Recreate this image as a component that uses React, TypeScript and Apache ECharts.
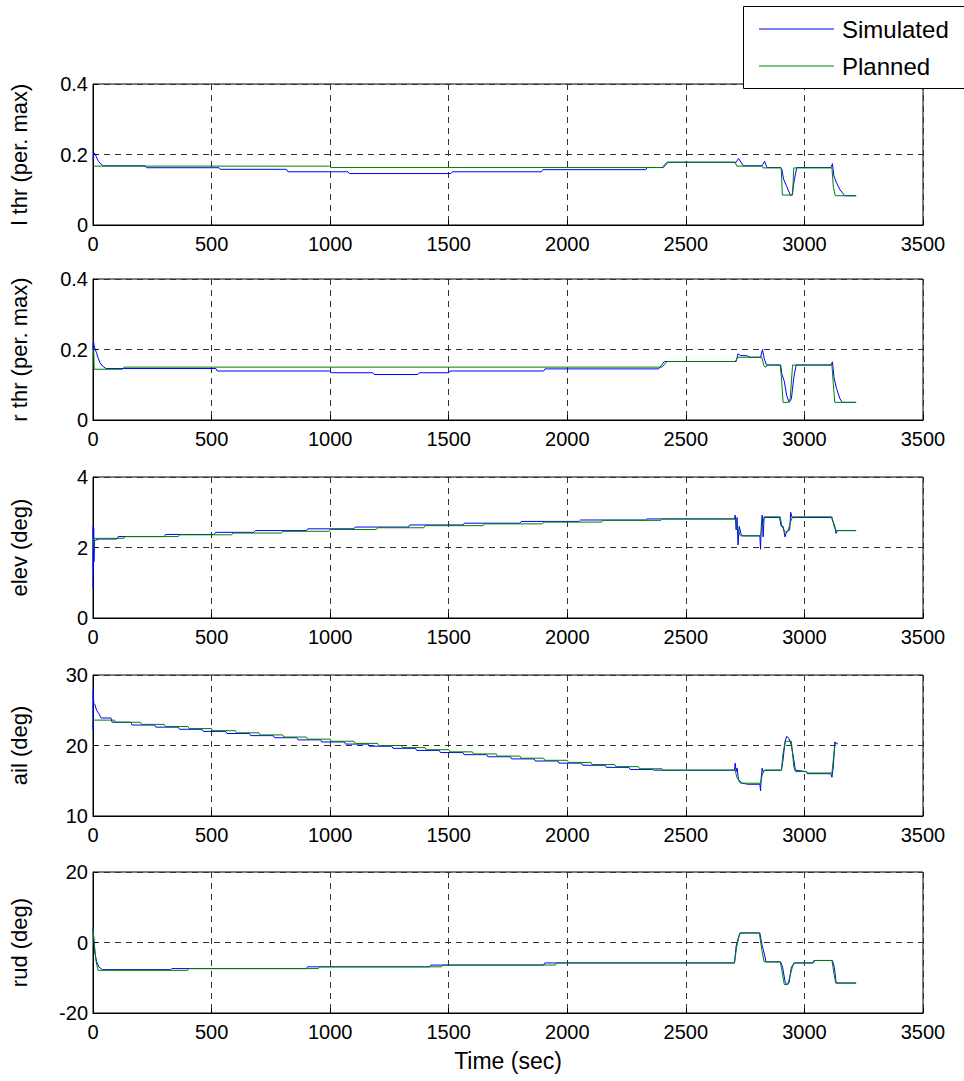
import React, { useEffect, useRef } from "react";
import * as echarts from "echarts";

const xTicks = [0, 500, 1000, 1500, 2000, 2500, 3000, 3500];
const yNames = ["l thr (per. max)", "r thr (per. max)", "elev (deg)", "ail (deg)", "rud (deg)"];
const yMins = [0, 0, 0, 10, -20];
const yMaxs = [0.4, 0.4, 4, 30, 20];
const yIntervals = [0.2, 0.2, 2, 10, 20];
const legendNames = ["Simulated", "Planned"];

const lthrSim = [[0,0.185],[4,0.205],[10,0.2],[16,0.19],[24,0.18],[34,0.172],[45,0.168],[220,0.168],[226,0.1625],[531,0.1625],[537,0.158],[816,0.158],[822,0.151],[1075,0.151],[1081,0.146],[1509,0.146],[1515,0.151],[1891,0.151],[1897,0.157],[2331,0.157],[2337,0.163],[2405,0.163],[2425,0.178],[2712,0.178],[2722,0.189],[2742,0.168],[2822,0.168],[2832,0.181],[2842,0.163],[2900,0.163],[2905,0.158],[2912,0.13],[2925,0.11],[2940,0.085],[2948,0.085],[2958,0.13],[2968,0.163],[3112,0.163],[3118,0.174],[3124,0.14],[3135,0.12],[3150,0.1],[3170,0.083],[3218,0.083]];
const lthrPlan = [[0,0.167],[997,0.167],[1003,0.163],[2400,0.163],[2420,0.178],[2708,0.178],[2715,0.167],[2820,0.167],[2825,0.162],[2902,0.162],[2907,0.085],[2950,0.085],[2955,0.162],[3116,0.162],[3122,0.107],[3130,0.083],[3218,0.083]];

const rthrSim = [[0,0.2],[2,0.223],[5,0.21],[10,0.2],[16,0.188],[22,0.175],[30,0.162],[40,0.153],[55,0.146],[518,0.146],[524,0.139],[1000,0.139],[1006,0.134],[1180,0.134],[1186,0.129],[1370,0.129],[1376,0.134],[1500,0.134],[1506,0.139],[1900,0.139],[1906,0.145],[2385,0.145],[2410,0.166],[2712,0.166],[2720,0.188],[2730,0.183],[2760,0.182],[2770,0.178],[2815,0.178],[2823,0.2],[2830,0.175],[2840,0.156],[2900,0.156],[2905,0.13],[2915,0.11],[2925,0.07],[2935,0.05],[2945,0.06],[2955,0.12],[2965,0.156],[3112,0.156],[3118,0.165],[3125,0.12],[3135,0.09],[3150,0.06],[3160,0.05],[3218,0.05]];
const rthrPlan = [[0,0.2],[3,0.2],[5,0.144],[125,0.144],[131,0.15],[2400,0.15],[2420,0.166],[2708,0.166],[2720,0.178],[2820,0.178],[2825,0.165],[2830,0.152],[2838,0.15],[2845,0.156],[2898,0.156],[2903,0.12],[2910,0.05],[2930,0.05],[2940,0.06],[2950,0.156],[3116,0.156],[3122,0.1],[3128,0.05],[3218,0.05]];

const elevSim = [[0,0.85],[1,2.6],[2,1.4],[3,2.55],[4,1.6],[6,2.2],[12,2.21],[25,2.24],[100,2.24],[106,2.31],[300,2.31],[306,2.37],[511,2.37],[517,2.43],[679,2.43],[685,2.48],[900,2.48],[906,2.53],[1100,2.53],[1106,2.58],[1330,2.58],[1336,2.64],[1560,2.64],[1566,2.69],[1800,2.69],[1806,2.74],[2050,2.74],[2056,2.78],[2330,2.78],[2336,2.81],[2705,2.81],[2708,2.92],[2712,2.5],[2716,2.85],[2720,2.07],[2725,2.6],[2732,2.4],[2740,2.33],[2812,2.33],[2815,1.95],[2818,2.6],[2822,2.92],[2826,2.3],[2830,2.85],[2895,2.85],[2902,2.6],[2910,2.6],[2918,2.3],[2925,2.45],[2938,2.5],[2942,3.0],[2948,2.85],[3114,2.85],[3120,2.75],[3128,2.6],[3133,2.4],[3140,2.48],[3218,2.48]];
const elevPlan = [[0,2.0],[4,2.26],[130,2.26],[135,2.31],[360,2.31],[365,2.36],[585,2.36],[590,2.41],[795,2.41],[800,2.46],[995,2.46],[1000,2.51],[1195,2.51],[1200,2.56],[1395,2.56],[1400,2.62],[1645,2.62],[1650,2.67],[1895,2.67],[1900,2.72],[2145,2.72],[2150,2.77],[2395,2.77],[2400,2.81],[2708,2.81],[2715,2.6],[2730,2.33],[2815,2.33],[2822,2.6],[2830,2.87],[2898,2.87],[2905,2.6],[2920,2.43],[2930,2.45],[2940,2.7],[2950,2.87],[3116,2.87],[3125,2.6],[3134,2.48],[3218,2.48]];

const ailSim = [[0,22.2],[1,27.9],[3,26],[8,25.8],[15,25],[25,24.5],[34,23.9],[76,23.9],[80,23.3],[160,23.3],[165,22.9],[260,22.9],[265,22.6],[360,22.6],[365,22.3],[460,22.3],[465,22.0],[560,22.0],[565,21.7],[660,21.7],[665,21.4],[760,21.4],[765,21.1],[860,21.1],[865,20.8],[960,20.8],[965,20.5],[1060,20.5],[1065,20.2],[1160,20.2],[1165,19.9],[1260,19.9],[1265,19.6],[1360,19.6],[1365,19.3],[1460,19.3],[1465,19.0],[1560,19.0],[1565,18.7],[1660,18.7],[1665,18.4],[1760,18.4],[1765,18.1],[1860,18.1],[1865,17.8],[1960,17.8],[1965,17.5],[2060,17.5],[2065,17.2],[2160,17.2],[2165,16.9],[2260,16.9],[2265,16.6],[2360,16.6],[2365,16.5],[2705,16.5],[2708,17.5],[2712,16.3],[2716,16.8],[2722,15.2],[2735,14.7],[2760,14.5],[2812,14.5],[2815,13.55],[2818,15.5],[2822,16.8],[2826,16.2],[2832,16.5],[2903,16.5],[2910,18],[2918,20.5],[2925,21.3],[2935,21],[2945,20],[2955,18],[2962,16.5],[3008,16.3],[3012,16.0],[3112,16.0],[3116,15.5],[3122,17],[3128,20.5],[3140,20.2]];
const ailPlan = [[0,23.6],[90,23.6],[95,23.3],[200,23.3],[205,23.0],[300,23.0],[305,22.7],[400,22.7],[405,22.4],[500,22.4],[505,22.1],[600,22.1],[605,21.8],[700,21.8],[705,21.5],[800,21.5],[805,21.2],[900,21.2],[905,20.9],[1000,20.9],[1005,20.6],[1100,20.6],[1105,20.3],[1200,20.3],[1205,20.0],[1300,20.0],[1305,19.7],[1400,19.7],[1405,19.4],[1500,19.4],[1505,19.1],[1600,19.1],[1605,18.8],[1700,18.8],[1705,18.5],[1800,18.5],[1805,18.2],[1900,18.2],[1905,17.9],[2000,17.9],[2005,17.6],[2100,17.6],[2105,17.3],[2200,17.3],[2205,17.0],[2300,17.0],[2305,16.7],[2400,16.7],[2405,16.5],[2708,16.5],[2715,15.5],[2730,14.65],[2815,14.65],[2822,15.8],[2830,16.5],[2903,16.5],[2910,19],[2920,20.6],[2945,20.6],[2955,17],[2962,16.3],[3008,16.3],[3012,16.1],[3116,16.1],[3125,19],[3130,20.3],[3140,20.3]];

const rudSim = [[0,4],[3,1],[8,-3],[15,-5.3],[25,-7],[40,-7.7],[328,-7.7],[333,-7.4],[900,-7.4],[905,-6.9],[1420,-6.9],[1425,-6.4],[1900,-6.4],[1905,-5.8],[2705,-5.8],[2712,-1],[2720,1],[2728,2.7],[2812,2.7],[2822,-1],[2830,-3],[2838,-5.5],[2900,-5.5],[2908,-7],[2918,-11],[2925,-12],[2935,-11.5],[2945,-7],[2958,-5.8],[3035,-5.8],[3040,-5.1],[3118,-5.1],[3126,-7],[3134,-11.5],[3218,-11.5]];
const rudPlan = [[0,4],[5,0],[12,-5],[21,-7.9],[399,-7.9],[404,-7.4],[950,-7.4],[955,-6.9],[1470,-6.9],[1475,-6.4],[1950,-6.4],[1955,-5.8],[2705,-5.8],[2715,-1],[2725,2.0],[2730,2.7],[2810,2.7],[2820,-2],[2830,-5.5],[2898,-5.5],[2905,-8],[2915,-11.9],[2930,-11.9],[2945,-8],[2955,-5.8],[3038,-5.8],[3043,-5.1],[3116,-5.1],[3125,-9],[3132,-11.5],[3218,-11.5]];

const simSeries = [lthrSim, rthrSim, elevSim, ailSim, rudSim];
const planSeries = [lthrPlan, rthrPlan, elevPlan, ailPlan, rudPlan];

const FONT = "'Liberation Sans', Arial, sans-serif";
const gridTops = [84, 279, 477, 675, 872];
const GRID_LEFT = 92;
const GRID_W = 831;
const GRID_H = 141;
const BLUE = "#0000ff";
const GREEN = "#008000";
const DASH = { color: "#333", type: [6, 5], width: 1 };

export default function App() {
  const ref = useRef<HTMLDivElement>(null);
  useEffect(() => {
    if (!ref.current) return;
    const chart = echarts.init(ref.current, undefined, { renderer: "svg" });
    const grids = gridTops.map((t) => ({
      left: GRID_LEFT, top: t, width: GRID_W, height: GRID_H,
      show: true, borderColor: "#000", borderWidth: 1, backgroundColor: "#fff",
    }));
    const xAxes = gridTops.map((_, i) => ({
      type: "value", gridIndex: i, min: xTicks[0], max: xTicks[xTicks.length - 1], interval: 500,
      axisLine: { show: true, onZero: false, lineStyle: { color: "#000", width: 1 } },
      axisTick: { show: true, inside: true, length: 5, lineStyle: { color: "#000" } },
      axisLabel: { fontSize: 20, color: "#000", fontFamily: FONT, margin: 9, formatter: (v: number) => String(v) },
      splitLine: { show: true, lineStyle: DASH },
      name: i === 4 ? "Time (sec)" : "",
      nameLocation: "middle", nameGap: 36,
      nameTextStyle: { fontSize: 23, color: "#000", fontFamily: FONT },
    }));
    const yAxes = gridTops.map((_, i) => ({
      type: "value", gridIndex: i, min: yMins[i], max: yMaxs[i], interval: yIntervals[i],
      axisLine: { show: true, onZero: false, lineStyle: { color: "#000", width: 1 } },
      axisTick: { show: true, inside: true, length: 5, lineStyle: { color: "#000" } },
      axisLabel: { fontSize: 20, color: "#000", fontFamily: FONT, margin: 5, formatter: (v: number) => String(v) },
      splitLine: { show: true, lineStyle: DASH },
      name: yNames[i], nameLocation: "middle", nameGap: 63, nameRotate: 90,
      nameTextStyle: { fontSize: 22, color: "#000", fontFamily: FONT },
    }));
    const series: any[] = [];
    for (let i = 0; i < 5; i++) {
      series.push({
        name: legendNames[0], type: "line", xAxisIndex: i, yAxisIndex: i, data: simSeries[i],
        showSymbol: false, symbol: "none", lineStyle: { color: BLUE, width: 1 }, z: 2,
      });
      series.push({
        name: legendNames[1], type: "line", xAxisIndex: i, yAxisIndex: i, data: planSeries[i],
        showSymbol: false, symbol: "none", lineStyle: { color: GREEN, width: 1 }, z: 3,
      });
    }
    chart.setOption({
      animation: false,
      backgroundColor: "#fff",
      grid: grids,
      xAxis: xAxes,
      yAxis: yAxes,
      series,
      graphic: [
        { type: "rect", shape: { x: 743.5, y: 6.5, width: 225, height: 82 }, style: { fill: "#fff", stroke: "#000", lineWidth: 1 }, z: 100 },
        { type: "line", shape: { x1: 759, y1: 29, x2: 834, y2: 29 }, style: { stroke: BLUE, lineWidth: 1 }, z: 101 },
        { type: "line", shape: { x1: 759, y1: 66, x2: 834, y2: 66 }, style: { stroke: GREEN, lineWidth: 1 }, z: 101 },
        { type: "text", x: 842, y: 29, style: { text: legendNames[0], fontSize: 24, fontFamily: FONT, fill: "#000", verticalAlign: "middle" }, z: 101 },
        { type: "text", x: 842, y: 66, style: { text: legendNames[1], fontSize: 24, fontFamily: FONT, fill: "#000", verticalAlign: "middle" }, z: 101 },
      ],
    });
    return () => chart.dispose();
  }, []);
  return <div ref={ref} style={{ position: "fixed", left: 0, top: 0, width: 964, height: 1081 }} />;
}
